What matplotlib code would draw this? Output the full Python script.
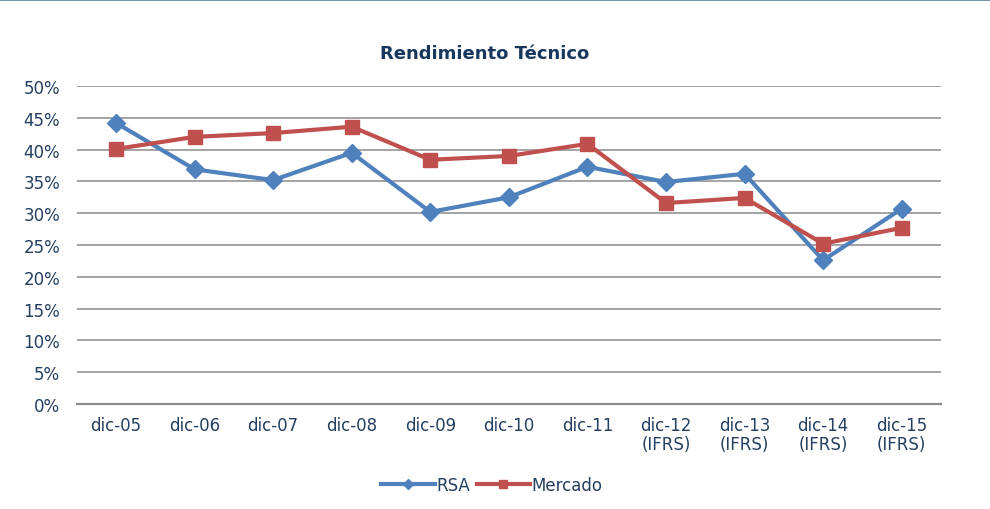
import matplotlib
matplotlib.use("Agg")
import matplotlib.pyplot as plt
from matplotlib.lines import Line2D

# Data (fraction as %)
categories = ["dic-05", "dic-06", "dic-07", "dic-08", "dic-09", "dic-10", "dic-11",
              "dic-12\n(IFRS)", "dic-13\n(IFRS)", "dic-14\n(IFRS)", "dic-15\n(IFRS)"]
rsa = [44.2, 36.9, 35.2, 39.5, 30.2, 32.5, 37.3, 34.9, 36.2, 22.6, 30.7]
mercado = [40.1, 42.0, 42.6, 43.6, 38.4, 39.0, 40.9, 31.6, 32.4, 25.2, 27.7]
yticks = [0, 5, 10, 15, 20, 25, 30, 35, 40, 45, 50]

txt_col = "#243F60"
plt.rcParams['font.family'] = ['DejaVu Sans']

fig = plt.figure(figsize=(9.9, 5.1), dpi=100)
ax = fig.add_axes([0.0775, 0.2059, 0.873, 0.6235])

x = list(range(len(categories)))
ax.plot(x, rsa, color="#4F81BD", lw=3, marker="D", ms=9.5, label="RSA", zorder=3)
ax.plot(x, mercado, color="#C0504D", lw=3, marker="s", ms=10.5, label="Mercado", zorder=3)

ax.set_xlim(-0.5, len(categories) - 0.5)
ax.set_ylim(0, 50)
ax.set_yticks(yticks)
ax.set_yticklabels([f"{v}%" for v in yticks], color=txt_col, fontsize=12)
ax.set_xticks(x)
ax.set_xticklabels(categories, color=txt_col, fontsize=12, linespacing=1.05)
ax.tick_params(axis="y", length=0, pad=12)
ax.tick_params(axis="x", length=0, pad=9)
ax.grid(axis="y", color="#8C8C8C", lw=1.1)
ax.set_axisbelow(True)
for s in ["top", "right", "left"]:
    ax.spines[s].set_visible(False)
ax.spines["bottom"].set_color("#8C8C8C")
ax.spines["bottom"].set_linewidth(1.6)

fig.text(0.49, 0.895, "Rendimiento Técnico", ha="center", va="center",
         fontsize=13, fontweight="bold", color="#17375E")

fig.legend(loc="center", bbox_to_anchor=(0.497, 0.048), ncol=2, frameon=False,
           fontsize=12, labelcolor=txt_col, handlelength=3.2, handletextpad=0.1,
           columnspacing=0.4, markerscale=0.55)

# top border
fig.add_artist(Line2D([0, 1], [0.998, 0.998], color="#7396B0", lw=1.5, transform=fig.transFigure))

fig.savefig("out.png", dpi=100)
